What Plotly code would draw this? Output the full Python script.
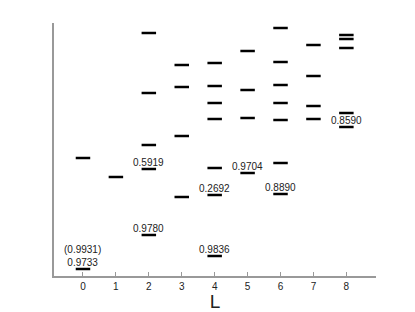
import plotly.graph_objects as go

# Angular momentum L and level energies (arbitrary units)
L_values = [0, 1, 2, 3, 4, 5, 6, 7, 8]
levels_L0 = [118, 7]
levels_L1 = [99]
levels_L2 = [243, 183, 131, 107, 41]
levels_L3 = [211, 189, 140, 79]
levels_L4 = [213, 190, 173, 157, 108, 81, 20]
levels_L5 = [225, 186, 158, 103]
levels_L6 = [248, 214, 191, 173, 156, 113, 82]
levels_L7 = [231, 200, 170, 157]
levels_L8 = [241, 237, 228, 163, 149]
all_levels = [levels_L0, levels_L1, levels_L2, levels_L3, levels_L4,
              levels_L5, levels_L6, levels_L7, levels_L8]

# labelled levels
label_L = [0, 2, 2, 4, 4, 5, 6, 8]
label_E = [7, 107, 41, 81, 20, 103, 82, 149]
label_text = ["(0.9931)<br>0.9733", "0.5919", "0.9780", "0.2692", "0.9836",
              "0.9704", "0.8890", "0.8590"]

tick_labels = ["0", "1", "2", "3", "4", "5", "6", "7", "8"]

half_w = 0.22
xs, ys = [], []
for L, lv in zip(L_values, all_levels):
    for e in lv:
        xs += [L - half_w, L + half_w, None]
        ys += [e, e, None]

fig = go.Figure()
fig.add_trace(go.Scatter(x=xs, y=ys, mode="lines",
                         line=dict(color="black", width=2.5),
                         hoverinfo="skip", showlegend=False))

for L, e, t in zip(label_L, label_E, label_text):
    fig.add_annotation(x=L, y=e, text=t, showarrow=False, xanchor="center",
                       yanchor="bottom", yshift=-1,
                       font=dict(family="Liberation Sans, Arial", size=10, color="#222"))

fig.update_layout(
    width=415, height=312,
    margin=dict(l=54, r=39, t=23, b=36),
    paper_bgcolor="white", plot_bgcolor="white",
    font=dict(family="Liberation Sans, Arial", size=10, color="#222"),
    xaxis=dict(range=[-0.88, 8.9], tickvals=L_values, ticktext=tick_labels,
               showgrid=False, zeroline=False, showline=True, automargin=False,
               linecolor="#999", linewidth=2, ticks="inside", ticklen=4,
               tickcolor="#999", tickwidth=1,
               title=dict(text="L", font=dict(size=19, color="#222"), standoff=2)),
    yaxis=dict(range=[0, 253], showgrid=False, zeroline=False, showline=True,
               automargin=False,
               linecolor="#999", linewidth=2, showticklabels=False, ticks=""),
)

fig.write_html("out.html", config={"displayModeBar": False},
               post_script="document.body.style.margin='0';document.body.style.overflow='hidden';")
